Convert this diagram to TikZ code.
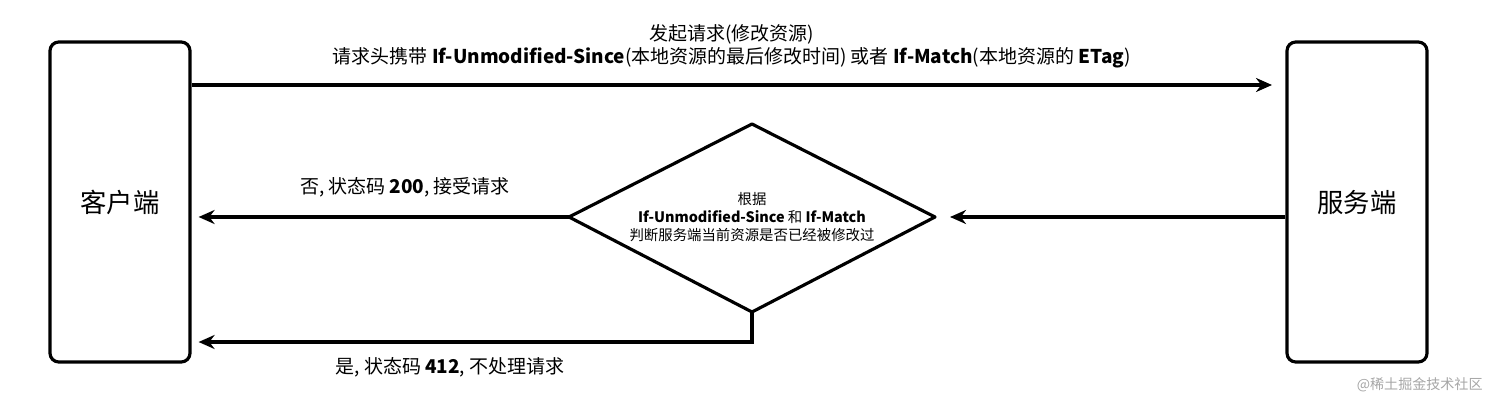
\documentclass[tikz,border=0pt]{standalone}
\usepackage{fontspec}
\setmainfont{Noto Sans CJK SC}
\usetikzlibrary{arrows.meta}
\begin{document}
\begin{tikzpicture}[
        party/.style = {draw, line width=0.9pt, rounded corners=2.5pt,
                        minimum width=1.4cm, minimum height=3.2cm,
                        font=\fontsize{7.5}{8}\selectfont},
        check/.style = {align=center, inner sep=0pt, font=\fontsize{4.1}{5.2}\selectfont},
          msg/.style = {line width=0.9pt, -{Stealth[length=1.6mm,width=1.4mm]}},
          lbl/.style = {font=\fontsize{5.4}{6.6}\selectfont, align=center}
                                ]
    \useasboundingbox (0,0) rectangle (14.99,4.07);
    % parties
    \node[party] (client) at (1.20,2.05) {客户端};
    \node[party] (server) at (13.57,2.05) {服务端};
    % decision
    \node[check] (judge) at (7.52,1.90)
        {根据\\\textbf{If-Unmodified-Since} 和 \textbf{If-Match}\\判断服务端当前资源是否已经被修改过};
    \coordinate (dn) at (7.52,2.83);
    \coordinate (ds) at (7.52,0.95);
    \coordinate (dw) at (5.69,1.90);
    \coordinate (de) at (9.35,1.90);
    \draw[line width=0.9pt, line join=round] (dn) -- (de) -- (ds) -- (dw) -- cycle;
    \coordinate (corner) at (7.52,0.65);
    % request
    \draw[msg] (client.east |- 0,3.22) -- node[lbl, above=1pt]
        {发起请求(修改资源)\\请求头携带 \textbf{If-Unmodified-Since}(本地资源的最后修改时间) 或者 \textbf{If-Match}(本地资源的 \textbf{ETag})}
        (12.72,3.22);
    \draw[msg] (server.west |- judge) -- ([xshift=1.5mm]de);
    \draw[msg] (dw) -- ([xshift=0.7mm]client.east |- judge);
    \node[lbl] (yes) at (4.05,2.20) {否, 状态码 \textbf{200}, 接受请求};
    \draw[msg] (ds) -- (corner) -- ([xshift=0.7mm]client.east |- corner);
    \node[lbl] (no) at (4.50,0.40) {是, 状态码 \textbf{412}, 不处理请求};
    % watermark
    \node[text=gray!70, font=\fontsize{4}{5}\selectfont, anchor=east] (mark) at (14.95,0.22) {@稀土掘金技术社区};
\end{tikzpicture}
\end{document}
